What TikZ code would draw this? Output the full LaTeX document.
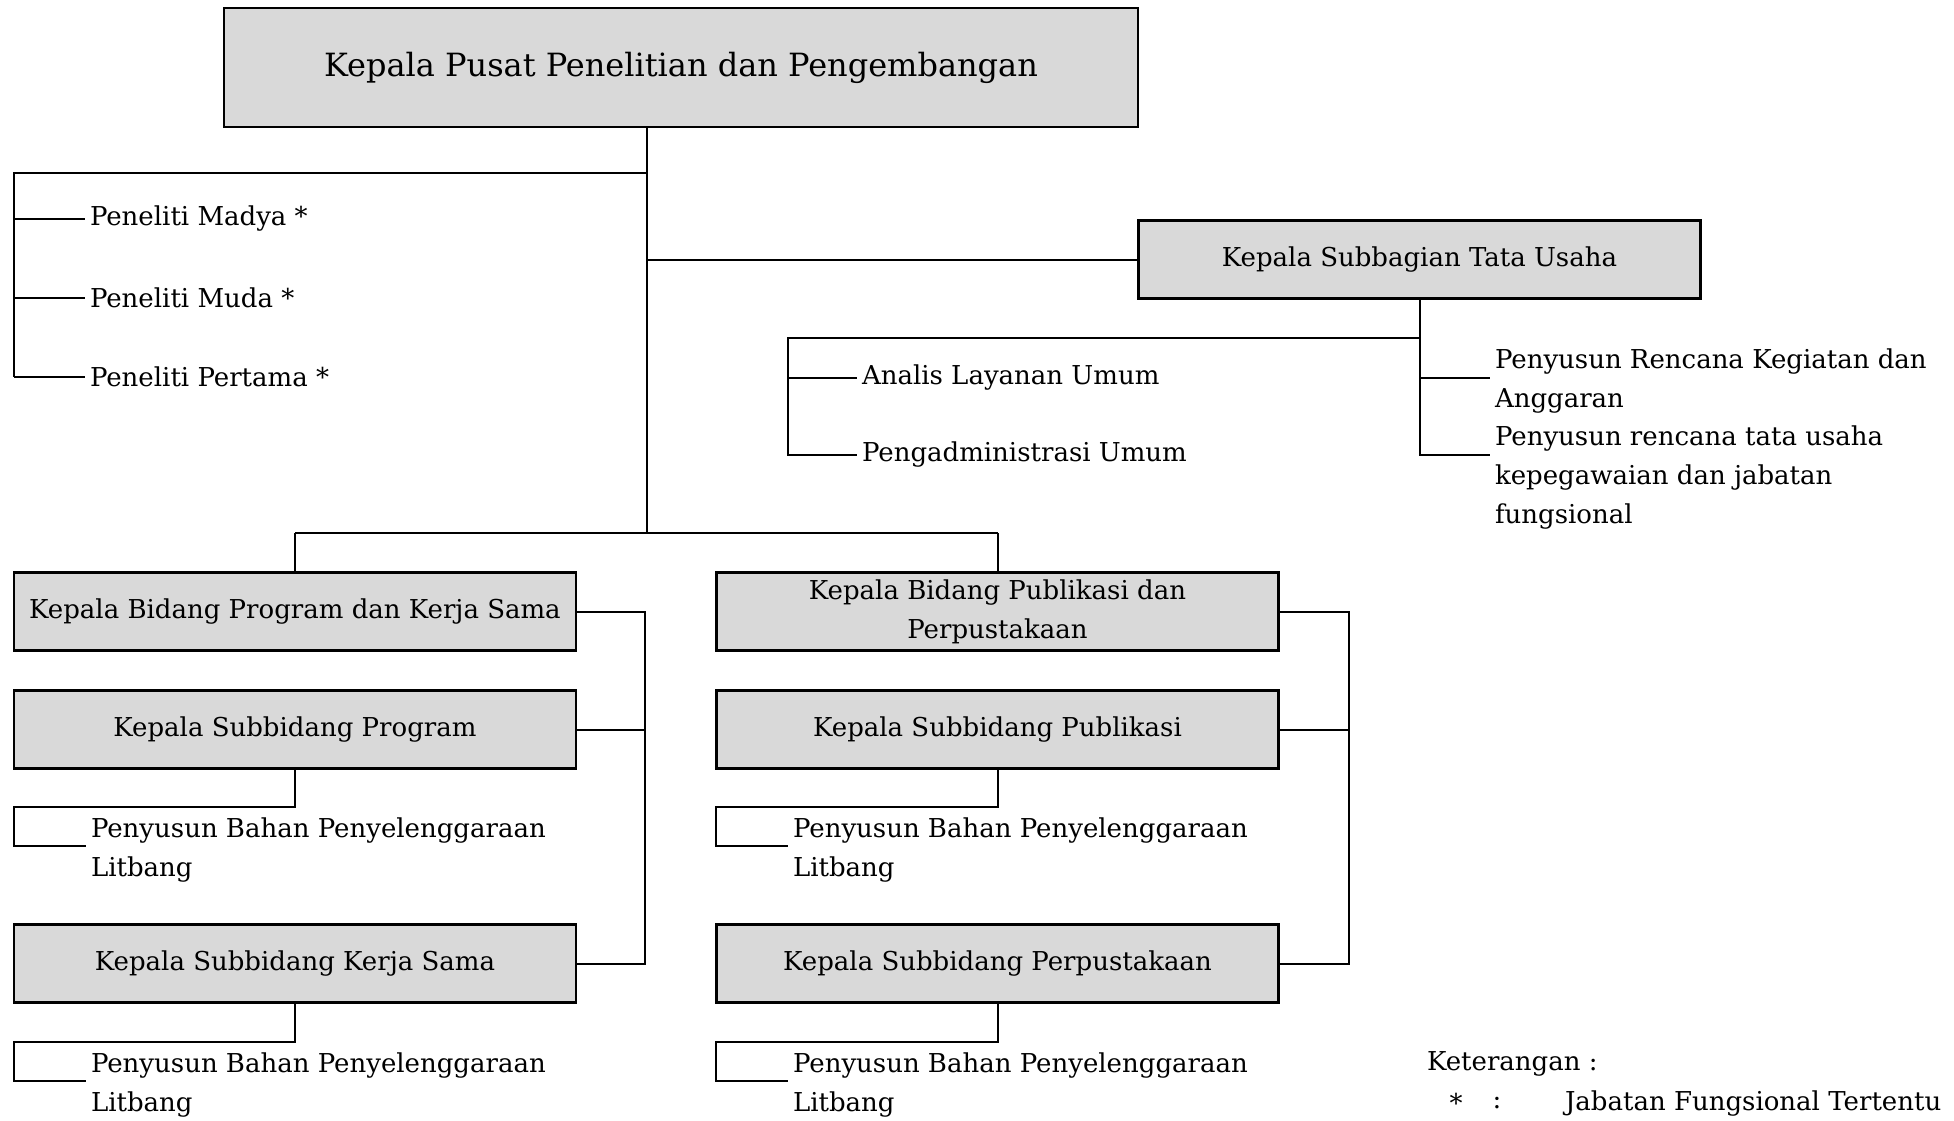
\documentclass[tikz,border=0pt]{standalone}
\usepackage{fontspec}
\setmainfont{DejaVu Serif}
\usepackage{xcolor}
\usetikzlibrary{positioning}
\definecolor{boxgray}{HTML}{D9D9D9}

\begin{document}
\begin{tikzpicture}[x=1pt, y=-1pt, line width=2pt,
    jabatan/.style={draw=black, fill=boxgray, line width=2.4pt, minimum width=562pt,
      minimum height=78pt, inner sep=0pt, align=center, font=\fontsize{26}{39}\selectfont},
    staf/.style={anchor=west, inner xsep=4pt, inner ysep=0pt, align=left,
      font=\fontsize{26}{39}\selectfont}]
  \useasboundingbox (0,0) rectangle (1954,1120);

  % pimpinan
  \node[jabatan, minimum width=914pt, minimum height=119pt, font=\fontsize{32}{40}\selectfont]
    (kapus) at (681,67.5) {Kepala Pusat Penelitian dan Pengembangan};
  \node[jabatan] (katu) at (1419.5,259.5) {Kepala Subbagian Tata Usaha};

  % bidang
  \node[jabatan] (kbprog) at (295,611.5) {Kepala Bidang Program dan Kerja Sama};
  \node[jabatan] (ksbprog) at (295,729.5) {Kepala Subbidang Program};
  \node[jabatan] (ksbks) at (295,963.5) {Kepala Subbidang Kerja Sama};
  \node[jabatan] (kbpub) at (997.5,611.5) {Kepala Bidang Publikasi dan\\Perpustakaan};
  \node[jabatan] (ksbpub) at (997.5,729.5) {Kepala Subbidang Publikasi};
  \node[jabatan] (ksbpus) at (997.5,963.5) {Kepala Subbidang Perpustakaan};

  % garis utama
  \coordinate (spine) at (647,533);
  \coordinate (fung) at (14,173);
  \draw (kapus.south -| spine) -- (spine);
  \draw (spine -| kbprog.north) -- (spine -| kbpub.north);
  \draw (spine -| kbprog.north) -- (kbprog.north);
  \draw (spine -| kbpub.north) -- (kbpub.north);
  \draw (spine |- katu.west) -- (katu.west);

  % peneliti
  \node[staf] (madya) at (85,219) {Peneliti Madya *};
  \node[staf] (muda) at (85,298) {Peneliti Muda *};
  \node[staf] (pertama) at (85,376.5) {Peneliti Pertama *};
  \draw (spine |- fung) -- (fung) -- (fung |- pertama.west);
  \foreach \n in {madya,muda,pertama}
    \draw (fung |- \n.west) -- (\n.west);

  % tata usaha
  \coordinate (tu) at (788,337.5);
  \node[staf] (analis) at (857,378) {Analis Layanan Umum};
  \node[staf] (pengadm) at (857,455) {Pengadministrasi Umum};
  \node[staf] (rka) at (1490,381) {Penyusun Rencana Kegiatan dan\\Anggaran};
  \node[staf] (rtu) at (1490,478) {Penyusun rencana tata usaha\\kepegawaian dan jabatan\\fungsional};
  \draw (katu.south) -- (katu.south |- tu) -- (tu) -- (tu |- pengadm.west) -- (pengadm.west);
  \draw (tu |- analis.west) -- (analis.west);
  \draw (katu.south |- tu) -- (katu.south |- pengadm.west) -- (rtu.west |- pengadm.west);
  \draw (katu.south |- analis.west) -- (rka.west |- analis.west);

  % kurung kanan bidang
  \coordinate (sisiA) at (645,0);
  \coordinate (sisiB) at (1349,0);
  \draw (kbprog.east) -- (kbprog.east -| sisiA) -- (ksbks.east -| sisiA) -- (ksbks.east);
  \draw (ksbprog.east) -- (ksbprog.east -| sisiA);
  \draw (kbpub.east) -- (kbpub.east -| sisiB) -- (ksbpus.east -| sisiB) -- (ksbpus.east);
  \draw (ksbpub.east) -- (ksbpub.east -| sisiB);

  % penyusun bahan
  \foreach \kepala/\nama/\kiri/\y in {ksbprog/pbprog/14/846, ksbks/pbks/14/1081,
      ksbpub/pbpub/716/846, ksbpus/pbpus/716/1081} {
    \node[staf] (\nama) at (\kiri+72,\y+4) {Penyusun Bahan Penyelenggaraan\\Litbang};
    \coordinate (\nama-siku) at (\kiri,\y-39);
    \coordinate (\nama-ujung) at (\kiri+72,\y);
    \draw (\kepala.south) |- (\nama-siku) |- (\nama-ujung);
  }

  % keterangan
  \node[staf] (ket) at (1422,1064) {Keterangan :};
  \node[font=\fontsize{26}{39}\selectfont, inner sep=0pt] (bintang) at (1456,1103) {*};
  \node[font=\fontsize{26}{39}\selectfont, inner sep=0pt] (titik) at (1497,1103) {:};
  \node[staf] (jft) at (1560,1103) {Jabatan Fungsional Tertentu};
\end{tikzpicture}
\end{document}
